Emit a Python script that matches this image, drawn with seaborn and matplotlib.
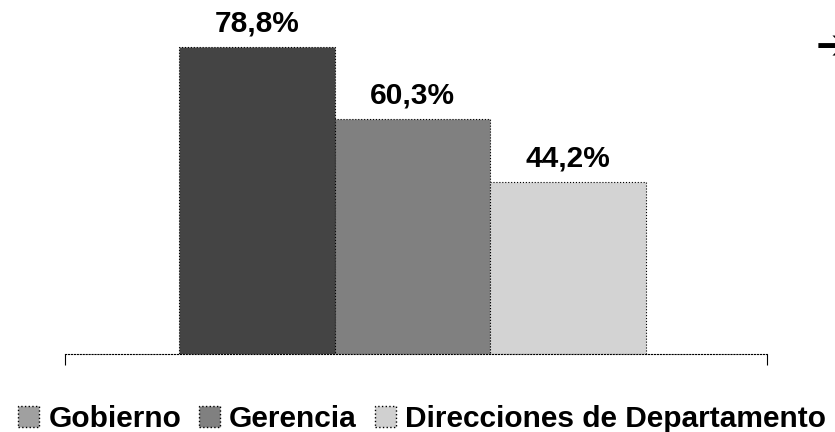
import pandas as pd
import matplotlib
matplotlib.use('Agg')
import matplotlib.pyplot as plt
import seaborn as sns
from matplotlib.patches import Patch

# Data
categories = ['Total']
series = ['Gobierno', 'Gerencia', 'Direcciones de Departamento']
values = [78.8, 60.3, 44.2]
labels = ['78,8%', '60,3%', '44,2%']
bar_colors = ['#444444', '#808080', '#d3d3d3']
legend_colors = ['#a0a0a0', '#808080', '#d0d0d0']

df = pd.DataFrame({'cat': categories * len(series), 'serie': series, 'valor': values})

sns.set_style('white')
plt.rcParams['font.family'] = ['Liberation Sans', 'DejaVu Sans']
plt.rcParams['text.color'] = 'black'

fig = plt.figure(figsize=(8.35, 4.32), dpi=100)
ax = fig.add_axes([65 / 835, (432 - 354) / 432, 702 / 835, 351 / 432])

sns.barplot(data=df, x='cat', y='valor', hue='serie', palette=bar_colors,
            width=0.664, saturation=1, ax=ax, legend=False,
            edgecolor='black', linewidth=0.8, linestyle=':')

for bar, lab in zip(ax.patches, labels):
    ax.text(bar.get_x() + bar.get_width() / 2, bar.get_height() + 2.3, lab,
            ha='center', va='bottom', fontsize=21.5, fontweight='bold', color='black')

ax.set_xlim(-0.495, 0.505)
ax.set_ylim(0, 90)
ax.set_xlabel('')
ax.set_ylabel('')
ax.set_yticks([])
ax.set_xticks([-0.495, 0.505])
ax.set_xticklabels([])
ax.tick_params(axis='x', direction='out', length=8, width=0.8, color='black', bottom=True)
for s in ['top', 'right', 'left']:
    ax.spines[s].set_visible(False)
ax.spines['bottom'].set_color('black')
ax.spines['bottom'].set_linewidth(0.8)
ax.spines['bottom'].set_linestyle(':')

handles = [Patch(facecolor=c, edgecolor='black', linestyle=':', linewidth=1.0) for c in legend_colors]
fig.legend(handles, series, loc='center', bbox_to_anchor=(422 / 835, 13 / 432), ncol=3, frameon=False,
           prop={'size': 21.5, 'weight': 'bold'}, handlelength=0.7, handleheight=0.7,
           handletextpad=0.3, columnspacing=0.6, borderpad=0, borderaxespad=0)

fig.text(816 / 835, 1 - 47 / 432, '\u2794', fontsize=30, fontweight='bold', ha='left', va='center',
         family=['DejaVu Sans'], color='black')

fig.savefig('out.png', dpi=100)
